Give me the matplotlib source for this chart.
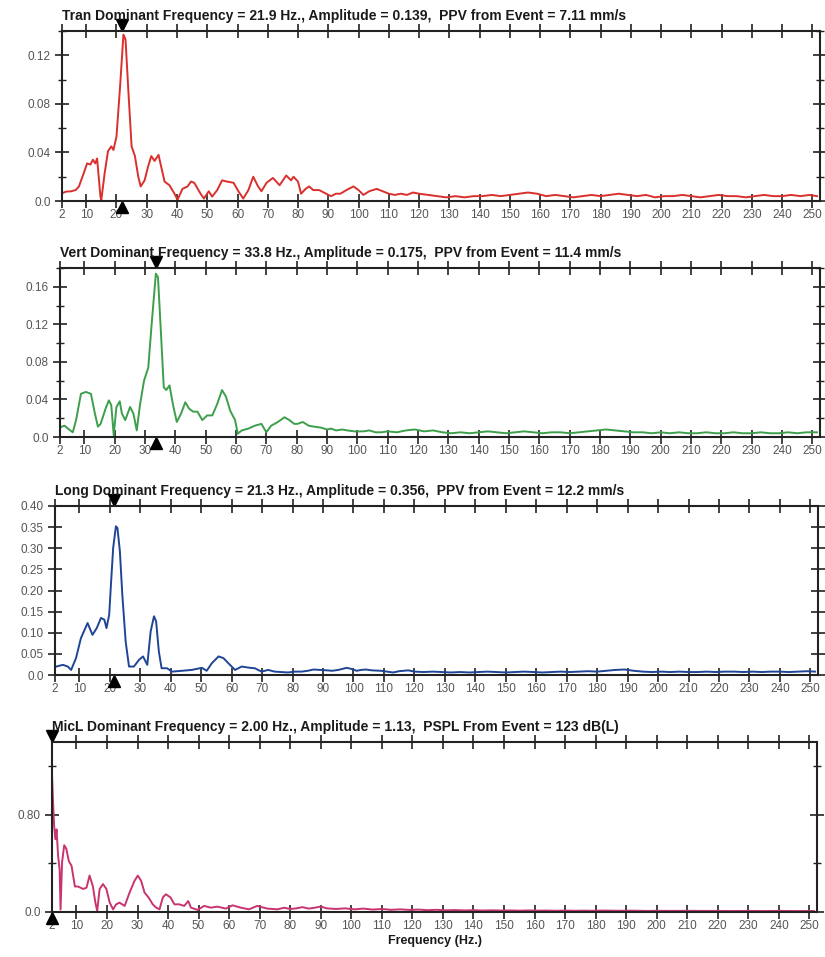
import matplotlib
matplotlib.use("Agg")
import matplotlib.pyplot as plt
from matplotlib.ticker import MultipleLocator
from matplotlib.transforms import offset_copy

plt.rcParams['font.family'] = ['Liberation Sans', 'DejaVu Sans']

# ---- data (frequency Hz, amplitude) ----
tran_f = [2, 3.3, 5, 6.5, 7.6, 9.2, 10.3, 11.4, 12.2, 13, 13.6, 14.7, 15, 16.1, 17.2, 18.3, 19,
          20, 21.2, 22.3, 23, 23.9, 25, 26.1, 27.2, 28, 29.3, 30.4, 31.5, 32.6, 33.9, 34.8, 35.9,
          37.5, 39.1, 40.2, 41.8, 43.5, 44.6, 45.7, 47.8, 48.9, 50.5, 51.6, 53.3, 54.9, 56.5,
          58.7, 60.3, 61.9, 63.6, 65.2, 66.8, 67.9, 69.6, 71.7, 73.9, 76.1, 77.7, 78.5, 80, 81,
          82.5, 83.7, 85, 87, 88.5, 90.9, 92.5, 94, 96, 98.3, 100, 101.6, 103.5, 106, 108, 110,
          112, 114, 116, 118, 120, 123, 126, 129, 132, 135, 138, 141, 144, 147, 150, 153, 156,
          159, 162, 165, 168, 171, 174, 177, 180, 183, 186, 189, 192, 195, 198, 201, 204, 207,
          210, 213, 216, 219, 222, 225, 228, 231, 234, 237, 240, 243, 246, 249, 251.5]
tran_a = [0.0063, 0.0077, 0.008, 0.009, 0.012, 0.023, 0.031, 0.030, 0.034, 0.031, 0.035, 0.0036,
          0.001, 0.023, 0.041, 0.045, 0.042, 0.053, 0.0945, 0.137, 0.133, 0.092, 0.045, 0.037,
          0.020, 0.012, 0.017, 0.028, 0.037, 0.033, 0.038, 0.028, 0.016, 0.013, 0.0063, 0.001,
          0.010, 0.012, 0.016, 0.015, 0.006, 0.002, 0.008, 0.0036, 0.009, 0.017, 0.016, 0.015,
          0.008, 0.002, 0.009, 0.020, 0.012, 0.008, 0.015, 0.019, 0.013, 0.021, 0.017, 0.020,
          0.016, 0.006, 0.010, 0.012, 0.009, 0.009, 0.007, 0.004, 0.006, 0.006, 0.009, 0.012,
          0.009, 0.005, 0.008, 0.010, 0.008, 0.006, 0.005, 0.006, 0.005, 0.007, 0.006, 0.005,
          0.004, 0.003, 0.004, 0.003, 0.004, 0.004, 0.005, 0.004, 0.005, 0.006, 0.007, 0.006,
          0.004, 0.005, 0.004, 0.003, 0.004, 0.005, 0.004, 0.005, 0.006, 0.005, 0.004, 0.005,
          0.003, 0.004, 0.004, 0.005, 0.004, 0.003, 0.004, 0.005, 0.004, 0.004, 0.003, 0.004,
          0.005, 0.004, 0.004, 0.005, 0.004, 0.005, 0.004]

vert_f = [2, 2.2, 3.5, 4.6, 6.2, 7.3, 8.9, 10.5, 12.2, 13.5, 14.5, 15.4, 17, 18.1, 18.9, 19.7,
          20.6, 21.7, 22.4, 23.5, 25.1, 26.2, 27.3, 28.4, 29.7, 31.1, 32.2, 33.6, 34.3, 35.4,
          36.2, 37, 38.1, 39.2, 40.5, 41.9, 43.3, 44.6, 45.9, 47.3, 48.9, 50.5, 52.2, 53.8, 55.4,
          56.7, 58.1, 59.7, 60.6, 61.9, 64.1, 66.2, 68.4, 70, 71.6, 73.8, 76, 77.6, 79.2, 80.3,
          82, 84, 85.8, 88, 90, 91.3, 93, 95, 96.7, 99, 102, 104, 106, 108, 110, 113, 116, 119,
          122, 125, 128, 131, 134, 137, 140, 143, 146, 149, 152, 155, 158, 161, 164, 167, 170,
          173, 176, 179, 182, 185, 188, 191, 194, 197, 200, 203, 206, 209, 212, 215, 218, 221,
          224, 227, 230, 233, 236, 239, 242, 245, 248, 251.5]
vert_a = [0.009, 0.0106, 0.012, 0.009, 0.005, 0.018, 0.046, 0.048, 0.046, 0.025, 0.011, 0.014,
          0.030, 0.039, 0.034, 0.002, 0.032, 0.038, 0.025, 0.018, 0.032, 0.025, 0.007, 0.035,
          0.060, 0.074, 0.120, 0.174, 0.170, 0.103, 0.053, 0.050, 0.055, 0.035, 0.016, 0.025,
          0.037, 0.030, 0.027, 0.027, 0.018, 0.023, 0.023, 0.035, 0.050, 0.043, 0.028, 0.018,
          0.0035, 0.007, 0.009, 0.012, 0.014, 0.005, 0.012, 0.016, 0.021, 0.018, 0.014, 0.014,
          0.016, 0.012, 0.011, 0.010, 0.008, 0.009, 0.007, 0.008, 0.007, 0.006, 0.006, 0.007,
          0.005, 0.005, 0.006, 0.005, 0.007, 0.008, 0.006, 0.007, 0.005, 0.004, 0.005, 0.004,
          0.005, 0.006, 0.005, 0.004, 0.005, 0.006, 0.005, 0.004, 0.005, 0.005, 0.004, 0.005,
          0.006, 0.007, 0.008, 0.007, 0.006, 0.005, 0.005, 0.004, 0.005, 0.004, 0.005, 0.004,
          0.004, 0.005, 0.004, 0.004, 0.005, 0.004, 0.004, 0.005, 0.004, 0.004, 0.005, 0.004,
          0.005, 0.005]

long_f = [2, 2.4, 4.6, 6.2, 7.3, 8.9, 10.5, 12.7, 14.3, 15.7, 17.1, 18.2, 18.9, 19.8, 20.3, 21.1,
          22, 22.5, 23.3, 24.1, 25.2, 26.3, 27.9, 29.6, 30.9, 32.3, 33.4, 34.5, 35.2, 36.1, 37,
          38.8, 40.4, 43.7, 46.9, 50.2, 51.8, 53.5, 55.7, 57.3, 58.9, 61.1, 63.3, 66, 67.6, 69.8,
          72, 74.1, 78.5, 80.7, 83, 85, 86.9, 89, 91.3, 93, 95, 97.8, 99.5, 101, 102.5, 104, 106,
          109, 111, 113, 115, 118, 120, 123, 126, 129, 132, 135, 138, 141, 144, 147, 150, 153,
          156, 159, 162, 165, 168, 171, 174, 177, 180, 183, 186, 189, 192, 195, 198, 201, 204,
          207, 210, 213, 216, 219, 222, 225, 228, 231, 234, 237, 240, 243, 246, 249, 251.5]
long_a = [0.018, 0.020, 0.024, 0.020, 0.012, 0.040, 0.087, 0.123, 0.095, 0.111, 0.135, 0.131,
          0.111, 0.143, 0.206, 0.301, 0.352, 0.348, 0.293, 0.190, 0.079, 0.020, 0.020, 0.036,
          0.044, 0.024, 0.103, 0.139, 0.127, 0.055, 0.016, 0.016, 0.008, 0.010, 0.012, 0.017,
          0.010, 0.028, 0.044, 0.040, 0.028, 0.012, 0.020, 0.017, 0.016, 0.008, 0.012, 0.008,
          0.006, 0.008, 0.008, 0.010, 0.013, 0.012, 0.011, 0.010, 0.012, 0.017, 0.014, 0.010,
          0.012, 0.013, 0.011, 0.010, 0.008, 0.006, 0.009, 0.011, 0.008, 0.007, 0.008, 0.007,
          0.006, 0.007, 0.006, 0.007, 0.008, 0.007, 0.006, 0.007, 0.008, 0.007, 0.006, 0.007,
          0.008, 0.007, 0.008, 0.009, 0.008, 0.010, 0.012, 0.013, 0.010, 0.008, 0.007, 0.008,
          0.007, 0.008, 0.007, 0.007, 0.008, 0.007, 0.008, 0.008, 0.007, 0.008, 0.007, 0.008,
          0.008, 0.007, 0.008, 0.009, 0.008]

mic_f = [2, 2.3, 2.7, 3.1, 3.5, 4.0, 4.5, 4.8, 5.3, 6.0, 6.7, 7.5, 8.4, 9.5, 10.5, 12.2, 13.3,
         14.3, 15.4, 16.2, 16.8, 17.6, 18.7, 19.8, 20.9, 22, 23, 24.1, 25.8, 27.4, 29, 30.1, 31.2,
         32.3, 33.6, 35, 36.1, 37.2, 38.3, 39.3, 40.8, 42.1, 43.7, 45.3, 46.6, 47.5, 49.7, 51.8,
         54, 56.2, 58.9, 61.1, 63.8, 66.5, 69.2, 72.5, 75.8, 78, 80, 82, 84, 86, 88, 90, 92, 95,
         98, 101, 104, 107, 110, 113, 116, 119, 122, 125, 128, 131, 134, 137, 140, 143, 146, 149,
         152, 155, 158, 161, 164, 167, 170, 173, 176, 179, 182, 185, 188, 191, 194, 197, 200,
         205, 210, 215, 220, 225, 230, 235, 240, 245, 251.5]
mic_a = [1.13, 0.93, 0.71, 0.60, 0.68, 0.46, 0.35, 0.02, 0.41, 0.55, 0.52, 0.42, 0.38, 0.21, 0.21,
         0.19, 0.20, 0.30, 0.21, 0.077, 0.01, 0.19, 0.23, 0.19, 0.077, 0.022, 0.063, 0.077, 0.05,
         0.16, 0.256, 0.30, 0.256, 0.16, 0.12, 0.063, 0.036, 0.022, 0.12, 0.146, 0.12, 0.063,
         0.063, 0.05, 0.09, 0.036, 0.017, 0.05, 0.036, 0.044, 0.028, 0.055, 0.036, 0.022, 0.05,
         0.028, 0.022, 0.035, 0.025, 0.030, 0.040, 0.028, 0.035, 0.045, 0.030, 0.025, 0.030,
         0.022, 0.028, 0.020, 0.025, 0.018, 0.022, 0.017, 0.020, 0.015, 0.018, 0.014, 0.016,
         0.013, 0.015, 0.012, 0.014, 0.012, 0.013, 0.011, 0.013, 0.011, 0.012, 0.010, 0.012,
         0.010, 0.011, 0.010, 0.012, 0.011, 0.010, 0.011, 0.010, 0.009, 0.010, 0.009, 0.010,
         0.009, 0.009, 0.008, 0.009, 0.008, 0.009, 0.008, 0.008]

titles = [
    "Tran Dominant Frequency = 21.9 Hz., Amplitude = 0.139,  PPV from Event = 7.11 mm/s",
    "Vert Dominant Frequency = 33.8 Hz., Amplitude = 0.175,  PPV from Event = 11.4 mm/s",
    "Long Dominant Frequency = 21.3 Hz., Amplitude = 0.356,  PPV from Event = 12.2 mm/s",
    "MicL Dominant Frequency = 2.00 Hz., Amplitude = 1.13,  PSPL From Event = 123 dB(L)",
]
dominant = [21.9, 33.8, 21.3, 2.0]
xticks = [2] + list(range(10, 251, 10))

# per panel: y limit, major ticks, minor step, tick labels
y_top = [0.14, 0.18, 0.40, 1.40]
y_major = [[0, 0.04, 0.08, 0.12], [0, 0.04, 0.08, 0.12, 0.16],
           [0, 0.05, 0.10, 0.15, 0.20, 0.25, 0.30, 0.35, 0.40], [0, 0.80]]
y_labels = [["0.0", "0.04", "0.08", "0.12"], ["0.0", "0.04", "0.08", "0.12", "0.16"],
            ["0.0", "0.05", "0.10", "0.15", "0.20", "0.25", "0.30", "0.35", "0.40"],
            ["0.0", "0.80"]]
y_minor = [0.02, 0.02, None, 0.40]

series = [(tran_f, tran_a), (vert_f, vert_a), (long_f, long_a), (mic_f, mic_a)]
colors = ['#d9302e', '#3c9f4c', '#1f4596', '#c93470']

W, H = 825, 957
# axes boxes in pixels: left, top, right, bottom
boxes = [(62, 31, 820, 201), (60, 268, 820, 437), (55, 506, 818, 675), (52, 742, 817, 912)]

fig = plt.figure(figsize=(W / 100, H / 100), dpi=100)

for i in range(4):
    l, t, r, b = boxes[i]
    ax = fig.add_axes([l / W, 1 - b / H, (r - l) / W, (b - t) / H])
    f, a = series[i]
    ax.plot(f, a, color=colors[i], lw=1.4)
    ax.set_xlim(2, 252.5)
    ax.set_ylim(0, y_top[i])
    ax.set_xticks(xticks)
    ax.set_xticklabels([str(x) for x in xticks])
    ax.set_yticks(y_major[i])
    ax.set_yticklabels(y_labels[i])
    if y_minor[i]:
        ax.yaxis.set_minor_locator(MultipleLocator(y_minor[i]))
    for s in ax.spines.values():
        s.set_linewidth(1.5)
        s.set_color('#222222')
    ax.tick_params(which='major', direction='inout', length=10, width=1.2, color='#222222',
                   top=True, right=True, labelsize=8.5, labelcolor='#555555')
    ax.tick_params(which='minor', direction='inout', length=6, width=1.0, color='#222222',
                   left=True, right=True)
    ax.tick_params(axis='x', pad=1)
    ax.tick_params(axis='y', pad=3)
    ax.set_title(titles[i], loc='left', fontsize=10, fontweight='bold', color='#1a1a1a', pad=8)

    # dominant frequency markers
    tr = ax.get_xaxis_transform()
    ax.plot(dominant[i], 1, marker='v', color='black', ms=8, clip_on=False,
            transform=offset_copy(tr, fig=fig, y=4, units='points'))
    ax.plot(dominant[i], 0, marker='^', color='black', ms=8, clip_on=False,
            transform=offset_copy(tr, fig=fig, y=-4, units='points'))

    if i == 3:
        ax.set_xlabel("Frequency (Hz.)", fontsize=9, fontweight='bold', color='#1a1a1a', labelpad=2)

fig.savefig("out.png", dpi=100)
